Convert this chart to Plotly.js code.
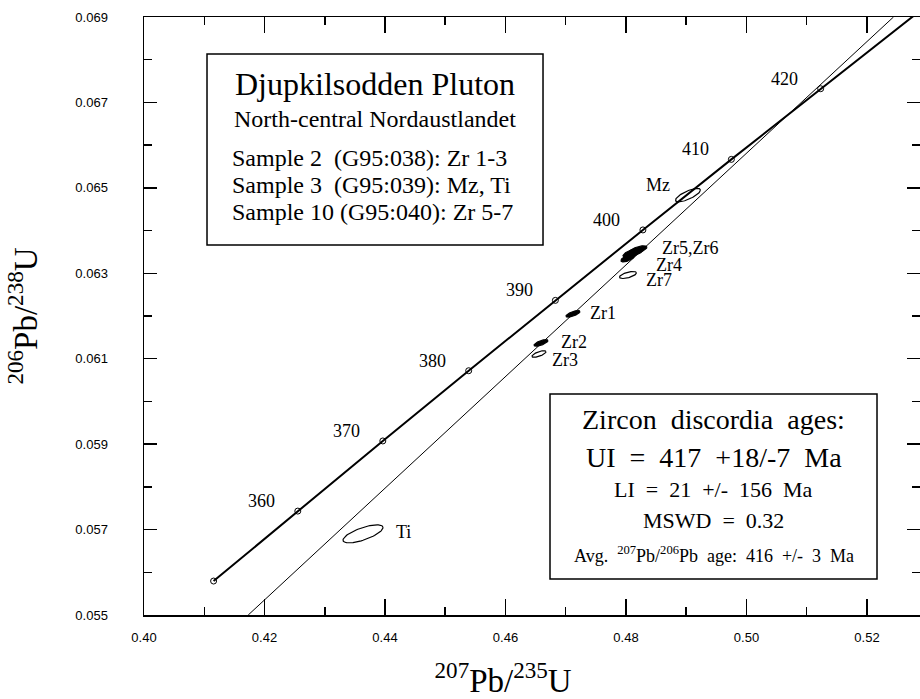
<!DOCTYPE html>
<html>
<head>
<meta charset="utf-8">
<script src="https://cdn.plot.ly/plotly-3.0.1.min.js"></script>
<style>html,body{margin:0;padding:0;background:#fff;}</style>
</head>
<body>
<div id="chart" style="width:920px;height:699px;"></div>
<script>
// Concordia points (207Pb/235U, 206Pb/238U)
const concAges = [350, 360, 370, 380, 390, 400, 410, 420];
const concX = [0.41155, 0.42553, 0.43964, 0.45389, 0.46828, 0.48281, 0.49749, 0.51231];
const concY = [0.055795, 0.057433, 0.059075, 0.060719, 0.062366, 0.064015, 0.065667, 0.067321];
const concTailX = [0.52728, 0.53029];
const concTailY = [0.068978, 0.06931];
const ageLabelShown = [false, true, true, true, true, true, true, true];

// Discordia line
const discX = [0.4173, 0.5244];
const discY = [0.055, 0.069];

// Error ellipses
const ellNames  = ['Ti', 'Mz', 'Zr1', 'Zr2', 'Zr3', 'Zr4', 'Zr5', 'Zr6', 'Zr7'];
const ellX      = [0.43635, 0.49029, 0.47120, 0.46589, 0.46556, 0.48033, 0.48199, 0.48116, 0.48033];
const ellY      = [0.05690, 0.06483, 0.06205, 0.06137, 0.06111, 0.06336, 0.06355, 0.06348, 0.06296];
const ellSx     = [0.00332, 0.00207, 0.00116, 0.00116, 0.00116, 0.00116, 0.00149, 0.00166, 0.00141];
const ellSy     = [0.000211, 0.000157, 0.000077, 0.000077, 0.000077, 0.000094, 0.000094, 0.000105, 0.000082];
const ellRho    = [0.70, 0.75, 0.70, 0.70, 0.70, 0.65, 0.65, 0.65, 0.60];
const ellFilled = [false, false, true, true, false, true, true, true, false];

// Sample labels
const labText   = ['Ti', 'Mz', 'Zr1', 'Zr2', 'Zr3', 'Zr4', 'Zr5,Zr6', 'Zr7'];
const labX      = [0.44149, 0.48531, 0.47369, 0.46888, 0.46739, 0.48465, 0.48564, 0.48299];
const labY      = [0.05694, 0.06507, 0.06207, 0.06139, 0.06097, 0.06319, 0.06359, 0.06284];
const labAnchor = ['left', 'center', 'left', 'left', 'left', 'left', 'left', 'left'];

const SERIF = 'Liberation Serif, Times New Roman, serif';
const NB = '\u00A0';
const ZW = '\u200B';

const traces = [];
traces.push({
  x: concX.concat(concTailX), y: concY.concat(concTailY),
  mode: 'lines', line: {color: '#000', width: 2}, hoverinfo: 'skip', showlegend: false
});
traces.push({
  x: discX, y: discY, mode: 'lines', line: {color: '#000', width: 1},
  hoverinfo: 'skip', showlegend: false
});
traces.push({
  x: concX, y: concY, mode: 'markers',
  marker: {symbol: 'circle-open', size: 6, color: '#000', line: {width: 1, color: '#000'}},
  hoverinfo: 'skip', showlegend: false
});
for (let i = 0; i < ellNames.length; i++) {
  const xs = [], ys = [];
  const N = 72;
  const r = ellRho[i], q = Math.sqrt(1 - r * r);
  for (let k = 0; k <= N; k++) {
    const t = 2 * Math.PI * k / N;
    xs.push(ellX[i] + ellSx[i] * Math.cos(t));
    ys.push(ellY[i] + ellSy[i] * (r * Math.cos(t) + q * Math.sin(t)));
  }
  traces.push({
    x: xs, y: ys, mode: 'lines', name: ellNames[i],
    line: {color: '#000', width: 1.2},
    fill: ellFilled[i] ? 'toself' : 'none', fillcolor: '#000',
    hoverinfo: 'skip', showlegend: false
  });
}

const annotations = [];
concAges.forEach((a, i) => {
  if (!ageLabelShown[i]) return;
  annotations.push({
    x: concX[i], y: concY[i], xref: 'x', yref: 'y', text: String(a),
    showarrow: false, xshift: -36, yshift: 10, xanchor: 'center', yanchor: 'middle',
    font: {family: SERIF, size: 18, color: '#000'}
  });
});
labText.forEach((t, i) => {
  annotations.push({
    x: labX[i], y: labY[i], xref: 'x', yref: 'y', text: t, showarrow: false,
    xanchor: labAnchor[i], yanchor: 'middle',
    font: {family: SERIF, size: 18, color: '#000'}
  });
});
function boxText(text, x, y, size, anchor) {
  annotations.push({
    x: x, y: y, xref: 'paper', yref: 'paper', text: text, showarrow: false,
    xanchor: anchor, yanchor: 'middle', font: {family: SERIF, size: size, color: '#000'}
  });
}
boxText('Djupkilsodden Pluton', 0.2977, 0.888, 32, 'center');
boxText('North-central Nordaustlandet', 0.2977, 0.8298, 24, 'center');
boxText('Sample 2' + NB + NB + '(G95:038): Zr 1-3', 0.1108, 0.7645, 24, 'left');
boxText('Sample 3' + NB + NB + '(G95:039): Mz, Ti', 0.1108, 0.7194, 24, 'left');
boxText('Sample 10 (G95:040): Zr 5-7', 0.1108, 0.6742, 24, 'left');

const S2 = NB + NB;
boxText('Zircon' + S2 + 'discordia' + S2 + 'ages:', 0.7339, 0.3269, 28, 'center');
boxText('UI' + S2 + '=' + S2 + '417' + S2 + '+18/-7' + S2 + 'Ma', 0.7339, 0.2629, 28, 'center');
boxText('LI' + S2 + '=' + S2 + '21' + S2 + '+/-' + S2 + '156' + S2 + 'Ma', 0.7339, 0.2094, 22, 'center');
boxText('MSWD' + S2 + '=' + S2 + '0.32', 0.7339, 0.1575, 22, 'center');
boxText('Avg.' + S2 + '<sup>207</sup>Pb/<sup>206</sup>Pb' + S2 + 'age:' + S2 + '416' + S2 + '+/-' + S2 + '3' + S2 + 'Ma', 0.7339, 0.1010, 18, 'center');

const shapes = [
  {type: 'rect', xref: 'paper', yref: 'paper', x0: 0.0812, x1: 0.5142, y0: 0.6187, y1: 0.9381,
   line: {color: '#000', width: 1.5}, fillcolor: 'rgba(0,0,0,0)'},
  {type: 'rect', xref: 'paper', yref: 'paper', x0: 0.5232, x1: 0.9446, y0: 0.0602, y1: 0.3696,
   line: {color: '#000', width: 1.5}, fillcolor: 'rgba(0,0,0,0)'}
];

const tickFont = {family: 'Liberation Sans, Arial, sans-serif', size: 13, color: '#000'};
const layout = {
  width: 920, height: 699,
  margin: {l: 144, r: 0, t: 17, b: 84},
  paper_bgcolor: '#fff', plot_bgcolor: '#fff',
  font: {family: SERIF, color: '#000'},
  showlegend: false,
  xaxis: {
    range: [0.40, 0.5288], tick0: 0.40, dtick: 0.02, tickformat: '.2f',
    ticks: 'inside', ticklen: 16, tickwidth: 1.5, tickcolor: '#000',
    minor: {tick0: 0.40, dtick: 0.01, ticks: 'inside', ticklen: 8, tickwidth: 1.5, tickcolor: '#000', showgrid: false},
    showline: true, linewidth: 1.5, linecolor: '#000', mirror: 'allticks',
    showgrid: false, zeroline: false, tickfont: tickFont, ticklabelstandoff: 10,
    title: {text: '<sup>207</sup>Pb/<sup>235</sup>U' + NB.repeat(7) + ZW, font: {family: SERIF, size: 33, color: '#000'}, standoff: 30}
  },
  yaxis: {
    range: [0.055, 0.069], tick0: 0.055, dtick: 0.002, tickformat: '.3f',
    ticks: 'inside', ticklen: 13, tickwidth: 1.5, tickcolor: '#000',
    minor: {tick0: 0.055, dtick: 0.001, ticks: 'inside', ticklen: 8, tickwidth: 1.5, tickcolor: '#000', showgrid: false},
    showline: true, linewidth: 1.5, linecolor: '#000', mirror: 'allticks',
    showgrid: false, zeroline: false, tickfont: tickFont, ticklabelstandoff: 32,
    title: {text: '<sup>206</sup>Pb/<sup>238</sup>U', font: {family: SERIF, size: 33, color: '#000'}, standoff: 28}
  },
  annotations: annotations,
  shapes: shapes
};

Plotly.newPlot('chart', traces, layout, {staticPlot: true, displayModeBar: false});
</script>
</body>
</html>
